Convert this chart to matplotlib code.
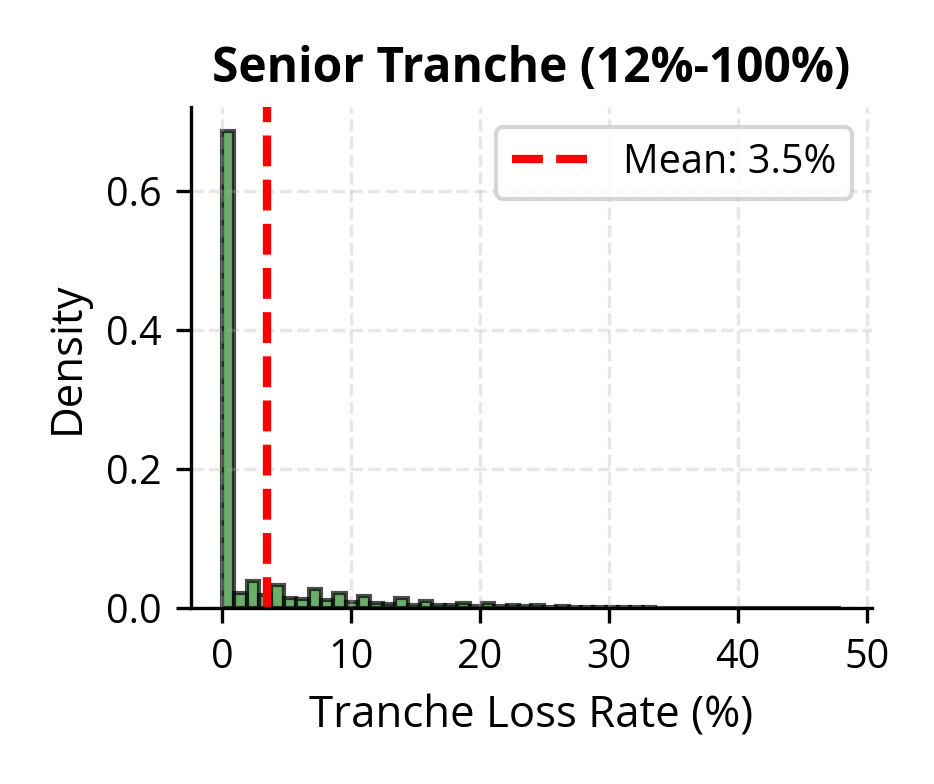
import matplotlib
matplotlib.use("Agg")
import matplotlib.pyplot as plt
import numpy as np

plt.rcParams["font.family"] = ["Open Sans", "DejaVu Sans"]

bin_width = 0.96
densities = [0.685, 0.022, 0.039, 0.019, 0.033, 0.015, 0.013, 0.027, 0.012, 0.022,
             0.009, 0.018, 0.008, 0.006, 0.014, 0.005, 0.010, 0.004, 0.004, 0.008,
             0.003, 0.007, 0.003, 0.005, 0.003, 0.004, 0.002, 0.003, 0.002, 0.002,
             0.001, 0.001, 0.001, 0.002, 0.001, 0.0005, 0.0005, 0.0004, 0.0004, 0.0003,
             0.0003, 0.0002, 0.0002, 0.0002, 0.0002, 0.0001, 0.0001, 0.0001, 0.0001, 0.0001]
mean_loss = 3.5

edges = np.arange(len(densities)) * bin_width

fig, ax = plt.subplots(figsize=(9.34 / 3, 7.84 / 3), dpi=300)
ax.bar(edges, densities, width=bin_width, align="edge", color="#2e8b2e", alpha=0.7,
       edgecolor="black", linewidth=1.0)
ax.axvline(mean_loss, color="red", linestyle="--", linewidth=2, label=f"Mean: {mean_loss}%")
ax.set_title("Senior Tranche (12%-100%)", fontweight="bold", fontsize=11.5)
ax.set_xlabel("Tranche Loss Rate (%)", fontsize=10.5)
ax.set_ylabel("Density", fontsize=10.5)
ax.tick_params(labelsize=9.5)
ax.set_xticks([0, 10, 20, 30, 40, 50])
ax.set_yticks([0.0, 0.2, 0.4, 0.6])
ax.set_ylim(0, 0.72)
ax.grid(True, linestyle="--", alpha=0.3)
ax.spines["top"].set_visible(False)
ax.spines["right"].set_visible(False)
ax.legend(fontsize=9.5, loc="upper right")
fig.tight_layout()
fig.savefig("out.png")
